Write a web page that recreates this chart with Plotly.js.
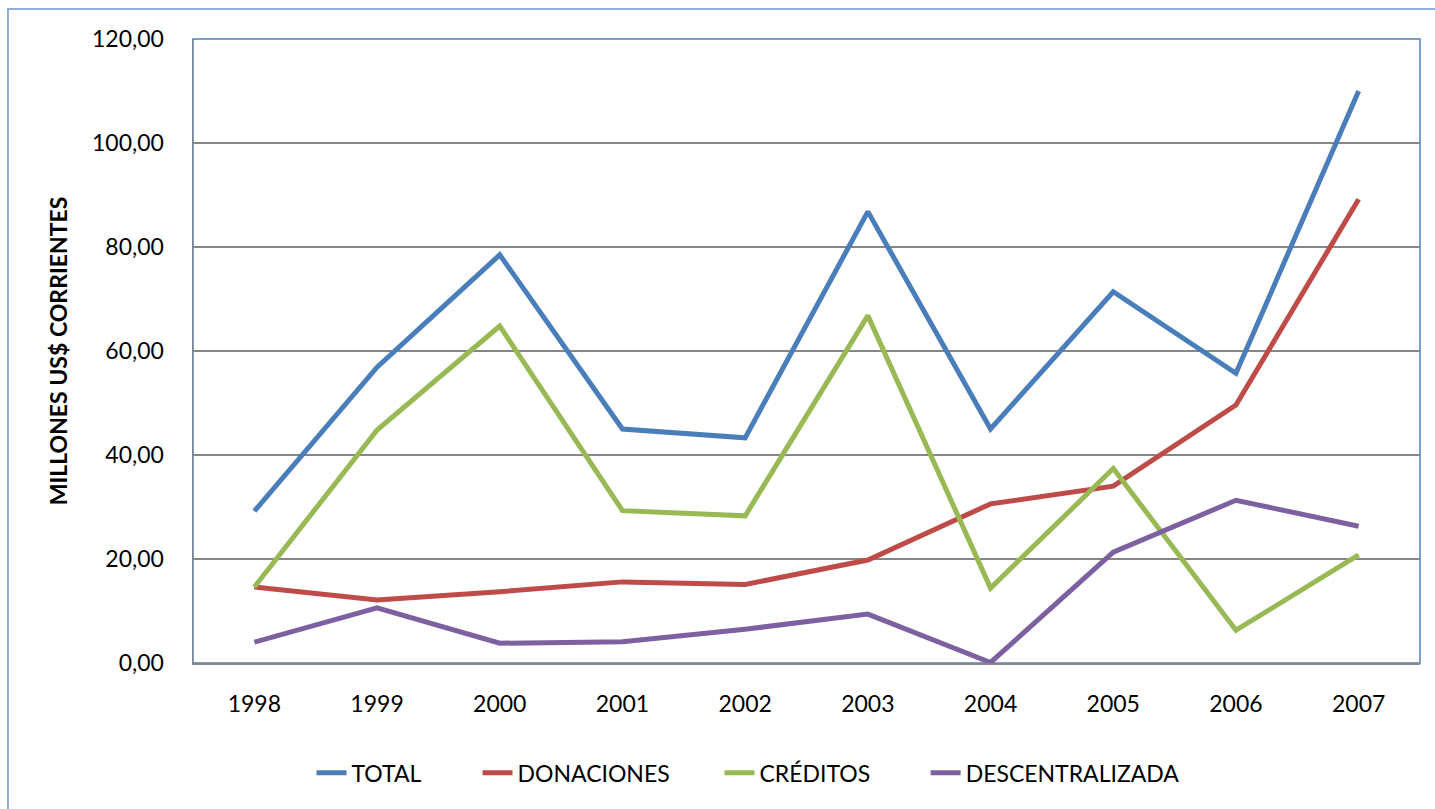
<!DOCTYPE html>
<html>
<head>
<meta charset="utf-8">
<script src="https://cdn.plot.ly/plotly-3.0.1.min.js"></script>
<style>
  html, body { margin: 0; padding: 0; background: #ffffff; }
  #chart { width: 1435px; height: 809px; }
</style>
</head>
<body>
<div id="chart"></div>
<script>
// Cooperación recibida por año, millones de US$ corrientes
const years = ['1998', '1999', '2000', '2001', '2002', '2003', '2004', '2005', '2006', '2007'];
const total = [29.2, 56.9, 78.5, 45.0, 43.3, 86.8, 45.0, 71.4, 55.7, 110.0];
const donaciones = [14.6, 12.1, 13.7, 15.6, 15.1, 19.8, 30.6, 34.0, 49.6, 89.2];
const creditos = [14.6, 44.8, 64.8, 29.3, 28.3, 66.8, 14.4, 37.4, 6.3, 20.8];
const descentralizada = [4.0, 10.6, 3.8, 4.1, 6.5, 9.4, 0.1, 21.3, 31.3, 26.3];
const yTicks = [0, 20, 40, 60, 80, 100, 120];

const seriesNames = ['TOTAL', 'DONACIONES', 'CRÉDITOS', 'DESCENTRALIZADA'];
const seriesValues = [total, donaciones, creditos, descentralizada];
const seriesColors = ['#4A7EBB', '#BE4B48', '#98B954', '#7D60A0'];

const FONT = 'Lato, "Open Sans", "Liberation Sans", sans-serif';

// each series gets its own legend box so the entries sit in a row with
// the same uneven spacing as the chart's key
const legendIds = ['legend', 'legend2', 'legend3', 'legend4'];
const legendX = [0.0966, 0.2319, 0.4291, 0.5971];

const traces = seriesNames.map((name, i) => ({
  type: 'scatter',
  mode: 'lines',
  name: name,
  x: years,
  y: seriesValues[i],
  line: { color: seriesColors[i], width: 5, shape: 'linear' },
  legend: legendIds[i],
  hoverinfo: 'x+y+name'
}));

const layout = {
  width: 1435,
  height: 809,
  margin: { l: 193, r: 15, t: 39, b: 146 },
  paper_bgcolor: '#ffffff',
  plot_bgcolor: '#ffffff',
  separators: ',.',
  font: { family: FONT, size: 23, color: '#000000' },
  showlegend: true,
  xaxis: {
    type: 'category',
    range: [-0.5, years.length - 0.5],
    showgrid: false,
    zeroline: false,
    showline: true,
    linecolor: '#868686',
    linewidth: 1.5,
    ticks: '',
    ticklabelstandoff: 20,
    tickfont: { family: FONT, size: 23, color: '#000000' },
    fixedrange: true,
    layer: 'above traces'
  },
  yaxis: {
    range: [0, 120],
    tickvals: yTicks,
    tickformat: '.2f',
    showgrid: true,
    gridcolor: '#868686',
    gridwidth: 1.2,
    zeroline: false,
    showline: true,
    linecolor: '#868686',
    linewidth: 1.5,
    ticks: '',
    ticklabelstandoff: 23,
    tickfont: { family: FONT, size: 23, color: '#000000' },
    title: {
      text: 'MILLONES US$ CORRIENTES',
      font: { family: FONT, size: 23, color: '#000000', weight: 'bold' },
      standoff: 18
    },
    fixedrange: true
  },
  shapes: [
    // plot-area frame (top and right edges show in blue)
    {
      type: 'rect', xref: 'paper', yref: 'paper',
      x0: 0, x1: 1, y0: 0, y1: 1,
      line: { color: '#4F81BD', width: 1.5 },
      layer: 'below'
    },
    // outer chart frame
    {
      type: 'rect', xref: 'paper', yref: 'paper',
      x0: -0.1508, x1: 1.04, y0: -0.25, y1: 1.048,
      line: { color: '#6A96CF', width: 1.5 },
      layer: 'above'
    }
  ]
};

legendIds.forEach((id, i) => {
  layout[id] = {
    orientation: 'h',
    x: legendX[i],
    xanchor: 'left',
    y: -0.176,
    yanchor: 'middle',
    bgcolor: 'rgba(0,0,0,0)',
    font: { family: FONT, size: 23, color: '#000000' },
    itemwidth: 30
  };
});

Plotly.newPlot('chart', traces, layout, { displayModeBar: false, staticPlot: true });
</script>
</body>
</html>
